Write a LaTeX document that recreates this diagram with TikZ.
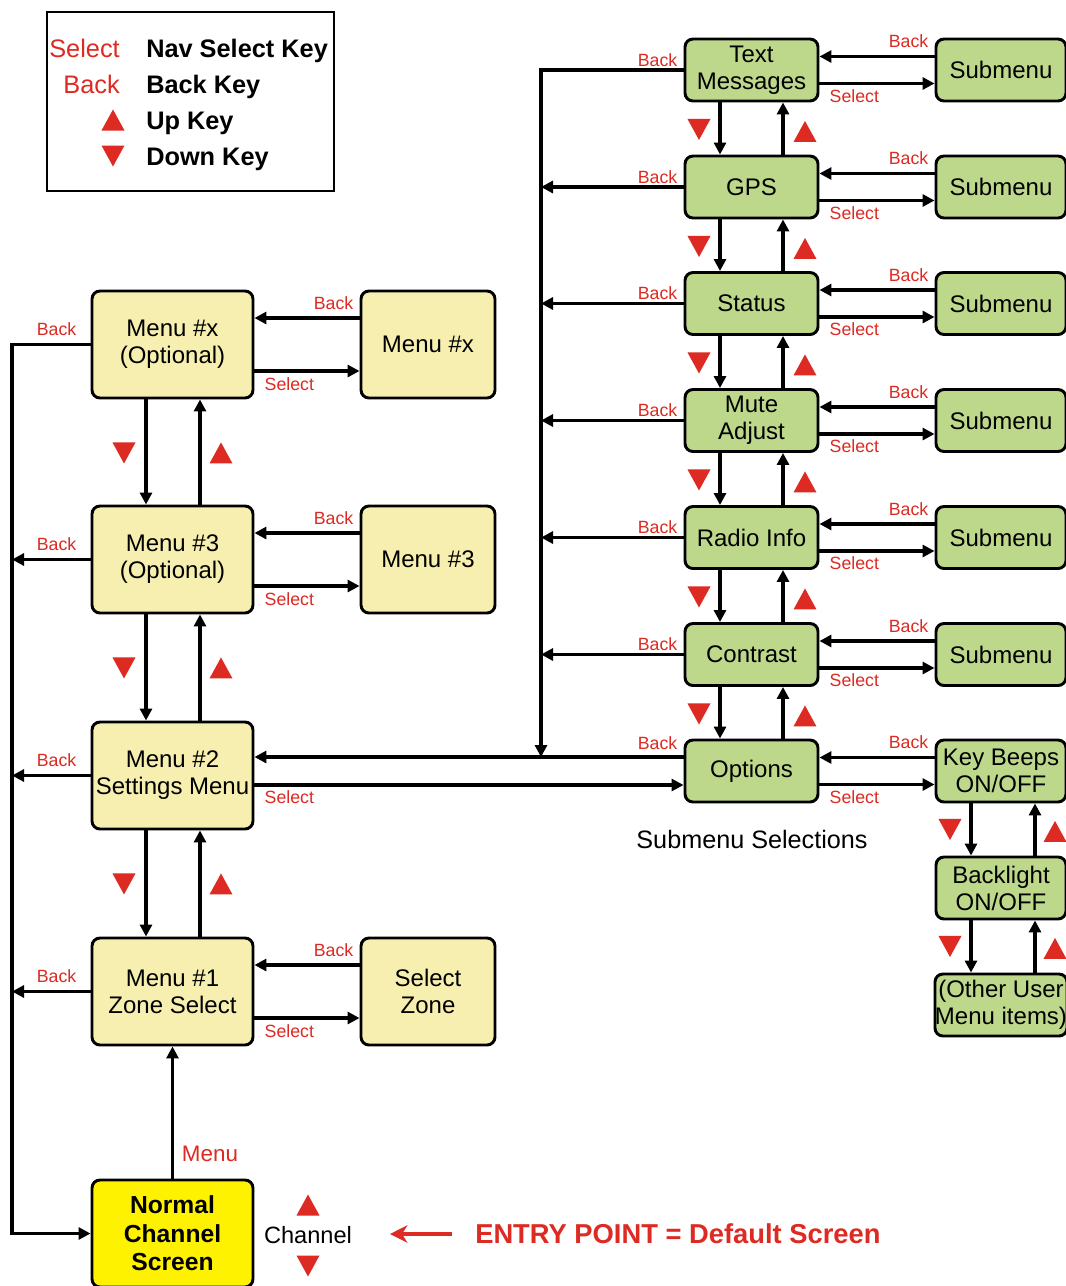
\documentclass[tikz,border=0pt]{standalone}
\usepackage{fontspec}
\setmainfont{Liberation Sans}
\usetikzlibrary{arrows.meta,calc}
\definecolor{ylw}{HTML}{F7EFAF}
\definecolor{grn}{HTML}{BDD88B}
\definecolor{brt}{HTML}{FFF200}
\definecolor{rd}{HTML}{DD2A22}
\begin{document}
\begin{tikzpicture}[x=0.75pt,y=-0.75pt,
  box/.style={draw=black, line width=2.2pt, rounded corners=6pt, align=center, inner sep=0pt,
              font=\fontsize{18}{20.25}\selectfont},
  ybox/.style={box, fill=ylw, minimum width=120.75pt, minimum height=80.25pt},
  rbox/.style={box, fill=ylw, minimum width=100.5pt, minimum height=80.25pt},
  gbox/.style={box, fill=grn, minimum width=99.75pt, minimum height=46.5pt},
  sbox/.style={box, fill=grn, minimum width=97.5pt, minimum height=46.5pt},
  arr/.style={draw=black, line width=2.3pt, -{Triangle[length=9pt,width=9pt]}},
  lbl/.style={text=rd, inner sep=0pt, font=\fontsize{13.3}{15}\selectfont},
  triu/.pic={\fill[rd] (-11.5,10.5) -- (11.5,10.5) -- (0,-10.5) -- cycle;},
  trid/.pic={\fill[rd] (-11.5,-10.5) -- (11.5,-10.5) -- (0,10.5) -- cycle;},
]
\useasboundingbox (0,0) rectangle (1065,1286);
\fill[white] (0,0) rectangle (1065,1286);

% ---------- legend ----------
\node[draw=black, line width=1.6pt, minimum width=215.25pt, minimum height=134.25pt, inner sep=0pt] (legend) at (190.5,101.5) {};
\begin{scope}[font=\fontsize{19}{22}\selectfont]
\node[anchor=base east, text=rd, inner sep=0pt] (lgsel) at (120,57) {Select};
\node[anchor=base east, text=rd, inner sep=0pt] (lgbk) at (120,93) {Back};
\node[anchor=base west, inner sep=0pt, font=\fontsize{19}{22}\selectfont\bfseries] (lg1) at (146,57) {Nav Select Key};
\node[anchor=base west, inner sep=0pt, font=\fontsize{19}{22}\selectfont\bfseries] (lg2) at (146,93) {Back Key};
\node[anchor=base west, inner sep=0pt, font=\fontsize{19}{22}\selectfont\bfseries] (lg3) at (146,129) {Up Key};
\node[anchor=base west, inner sep=0pt, font=\fontsize{19}{22}\selectfont\bfseries] (lg4) at (146,165) {Down Key};
\end{scope}
\pic at (113,120) {triu};
\pic at (113,156) {trid};

% ---------- left column ----------
\node[ybox] (mx) at (172.5,344.5) {Menu \#x\\(Optional)};
\node[ybox] (m3) at (172.5,559.5) {Menu \#3\\(Optional)};
\node[ybox] (m2) at (172.5,775.5) {Menu \#2\\Settings Menu};
\node[ybox] (m1) at (172.5,991.5) {Menu \#1\\Zone Select};
\node[box, fill=brt, minimum width=120.75pt, minimum height=80.25pt,
      font=\fontsize{18.5}{21.4}\selectfont\bfseries] (ncs) at (172.5,1233.5) {Normal\\Channel\\Screen};

\node[rbox] (rx) at (428,344.5) {Menu \#x};
\node[rbox] (r3) at (428,559.5) {Menu \#3};
\node[rbox] (sz) at (428,991.5) {Select\\Zone};

% ---------- green column ----------
\node[gbox] (tm) at (751.5,70) {Text\\Messages};
\node[gbox] (gps) at (751.5,187) {GPS};
\node[gbox] (st) at (751.5,303.5) {Status};
\node[gbox] (mu) at (751.5,420.5) {Mute\\Adjust};
\node[gbox] (ri) at (751.5,537.5) {Radio Info};
\node[gbox] (co) at (751.5,654.5) {Contrast};
\node[gbox] (op) at (751.5,771) {Options};

\node[sbox] (s1) at (1001,70) {Submenu};
\node[sbox] (s2) at (1001,187) {Submenu};
\node[sbox] (s3) at (1001,303.5) {Submenu};
\node[sbox] (s4) at (1001,420.5) {Submenu};
\node[sbox] (s5) at (1001,537.5) {Submenu};
\node[sbox] (s6) at (1001,654.5) {Submenu};
\node[sbox] (kb) at (1001,771) {Key Beeps\\ON/OFF};
\node[sbox] (bl) at (1001,888) {Backlight\\ON/OFF};
\node[sbox] (ou) at (1001,1005) {(Other User\\Menu items)};

\node[font=\fontsize{18.9}{22}\selectfont, inner sep=0pt] (subsel) at (752,839) {Submenu Selections};

% ---------- left column connectors ----------
\foreach \a/\b in {mx/m3,m3/m2,m2/m1} {
  \draw[arr] ($(\a.south)+(-26.5,0)$) -- ($(\b.north)+(-26.5,0)$);
  \draw[arr] ($(\b.north)+(27.5,0)$) -- ($(\a.south)+(27.5,0)$);
  \pic at ($(\a.south)+(-48.5,53.5)$) {trid};
  \pic at ($(\a.south)+(48.5,53.5)$) {triu};
}
\foreach \a/\b in {mx/rx,m3/r3,m1/sz} {
  \coordinate (bk\a) at ($(\b.west)+(0,-26.5)$);
  \draw[arr] (bk\a) -- (bk\a -| \a.east);
  \node[lbl, anchor=base east] (lb\a) at ($(bk\a)+(-6,-9)$) {Back};
  \coordinate (sl\a) at ($(\a.east)+(0,26.5)$);
  \draw[arr] (sl\a) -- (sl\a -| \b.west);
  \node[lbl, anchor=base west] (ls\a) at ($(sl\a)+(10,19)$) {Select};
}
\coordinate (lbus) at (12,344.5);
\draw[arr] (mx.west) -- (lbus) |- (ncs.west);
\node[lbl, anchor=base east] (lbbx) at ($(mx.west)+(-14,-9)$) {Back};
\foreach \a in {m3,m2,m1} {
  \draw[arr] (\a.west) -- (\a.west -| lbus);
  \node[lbl, anchor=base east] (lbb\a) at ($(\a.west)+(-14,-9)$) {Back};
}
\draw[arr] (ncs.north) -- (m1.south);
\node[text=rd, inner sep=0pt, font=\fontsize{16.8}{19}\selectfont] (menulbl) at (210,1154) {Menu};

% ---------- green column connectors ----------
\foreach \a/\b in {tm/gps,gps/st,st/mu,mu/ri,ri/co,co/op} {
  \draw[arr] ($(\a.south)+(-31.5,0)$) -- ($(\b.north)+(-31.5,0)$);
  \draw[arr] ($(\b.north)+(31.5,0)$) -- ($(\a.south)+(31.5,0)$);
  \pic at ($(\a.south)+(-52.5,27)$) {trid};
  \pic at ($(\a.south)+(53.5,29)$) {triu};
}
\foreach \a/\b in {tm/s1,gps/s2,st/s3,mu/s4,ri/s5,co/s6,op/kb} {
  \coordinate (bk\a) at ($(\b.west)+(0,-13.5)$);
  \draw[arr] (bk\a) -- (bk\a -| \a.east);
  \node[lbl, anchor=base east] (lb\a) at ($(bk\a)+(-6,-9)$) {Back};
  \coordinate (sl\a) at ($(\a.east)+(0,13.5)$);
  \draw[arr] (sl\a) -- (sl\a -| \b.west);
  \node[lbl, anchor=base west] (ls\a) at ($(sl\a)+(10,18.5)$) {Select};
}
\foreach \a/\b in {kb/bl,bl/ou} {
  \draw[arr] ($(\a.south)+(-30,0)$) -- ($(\b.north)+(-30,0)$);
  \draw[arr] ($(\b.north)+(34,0)$) -- ($(\a.south)+(34,0)$);
  \pic at ($(\a.south)+(-51,26)$) {trid};
  \pic at ($(\a.south)+(54,28)$) {triu};
}

% green back bus
\coordinate (ob) at ($(op.west)+(0,-14)$);
\coordinate (gbus) at (541,70);
\draw[arr] (tm.west) -- (gbus) -- (gbus |- ob);
\node[lbl, anchor=base east] (lgtm) at ($(tm.west)+(-6,-4)$) {Back};
\foreach \a in {gps,st,mu,ri,co} {
  \draw[arr] (\a.west) -- (\a.west -| gbus);
  \node[lbl, anchor=base east] (lg\a) at ($(\a.west)+(-6,-4)$) {Back};
}
\draw[arr] (ob) -- (ob -| m2.east);
\node[lbl, anchor=base east] (lgop) at ($(ob)+(-6,-8)$) {Back};
\coordinate (os) at ($(m2.east)+(0,9.5)$);
\draw[arr] (os) -- (os -| op.west);
\node[lbl, anchor=base west] (lsm2) at ($(os)+(10,18)$) {Select};

% ---------- bottom ----------
\node[inner sep=0pt, font=\fontsize{17.7}{20}\selectfont] (chan) at (308,1235) {Channel};
\pic at (308,1205) {triu};
\pic at (308,1266) {trid};
\node[anchor=west, text=rd, inner sep=0pt, font=\fontsize{20.5}{24}\selectfont\bfseries] (entry) at (475,1234) {ENTRY POINT = Default Screen};
\coordinate (ea) at (452,1234);
\coordinate (eb) at (390,1234);
\draw[draw=rd, line width=2.4pt, -{Stealth[length=13pt,width=13pt,inset=4pt]}] (ea) -- (eb);
\end{tikzpicture}
\end{document}
